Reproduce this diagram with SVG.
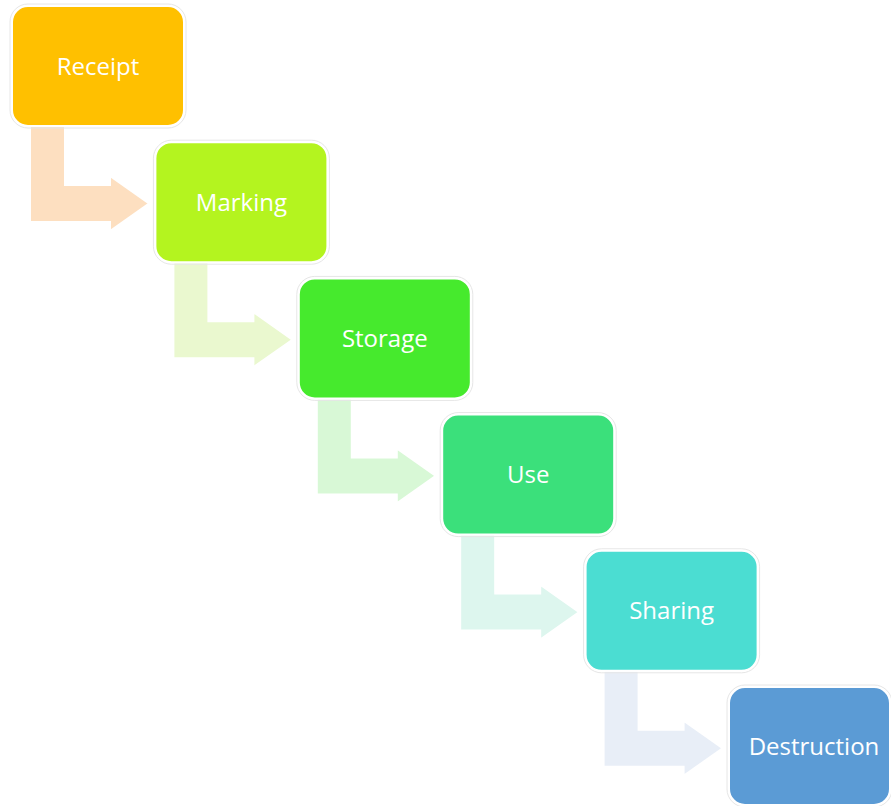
<svg xmlns="http://www.w3.org/2000/svg" width="891" height="806" viewBox="0 0 891 806">
<style>
.box{stroke:#ffffff;stroke-width:2}
.halo{fill:none;stroke:#e6e6e6;stroke-width:1}
.arr{stroke:#ffffff;stroke-width:2;stroke-linejoin:miter}
.lbl{font-family:"Open Sans","Liberation Sans",sans-serif;font-size:24px;fill:#ffffff;text-anchor:middle;dominant-baseline:central}
</style>
<defs>
<polygon id="bend" points="30,126 65,126 65,185 110,185 110,176 149,203.5 110,231 110,222 30,222"/>
</defs>
<rect width="891" height="806" fill="#ffffff"/>
<g id="connectors">
<use href="#bend" class="arr" fill="#FDDFC0"/>
<use href="#bend" class="arr" fill="#EAF8CF" transform="translate(143.4,136.2)"/>
<use href="#bend" class="arr" fill="#D8F8D6" transform="translate(286.8,272.4)"/>
<use href="#bend" class="arr" fill="#DDF6EE" transform="translate(430.2,408.6)"/>
<use href="#bend" class="arr" fill="#E8EEF7" transform="translate(573.6,544.8)"/>
</g>
<g id="receipt">
<rect class="halo" x="10" y="4" width="176" height="124" rx="18"/>
<rect class="box" x="12" y="6" width="172" height="120" rx="16" fill="#FFC000"/>
<text class="lbl" x="98" y="65">Receipt</text>
</g>
<g id="marking">
<rect class="halo" x="153.4" y="140.2" width="176" height="124" rx="18"/>
<rect class="box" x="155.4" y="142.2" width="172" height="120" rx="16" fill="#B4F41F"/>
<text class="lbl" x="241.4" y="201.2">Marking</text>
</g>
<g id="storage">
<rect class="halo" x="296.8" y="276.4" width="176" height="124" rx="18"/>
<rect class="box" x="298.8" y="278.4" width="172" height="120" rx="16" fill="#46EA2D"/>
<text class="lbl" x="384.8" y="337.4">Storage</text>
</g>
<g id="use">
<rect class="halo" x="440.2" y="412.6" width="176" height="124" rx="18"/>
<rect class="box" x="442.2" y="414.6" width="172" height="120" rx="16" fill="#3BE07B"/>
<text class="lbl" x="528.2" y="473.6">Use</text>
</g>
<g id="sharing">
<rect class="halo" x="583.6" y="548.8" width="176" height="124" rx="18"/>
<rect class="box" x="585.6" y="550.8" width="172" height="120" rx="16" fill="#4BDDD2"/>
<text class="lbl" x="671.6" y="609.8">Sharing</text>
</g>
<g id="destruction">
<rect class="halo" x="727" y="685" width="165" height="122" rx="18"/>
<rect class="box" x="729" y="687" width="161" height="118" rx="16" fill="#5B9BD5"/>
<text class="lbl" x="814" y="745">Destruction</text>
</g>
</svg>
